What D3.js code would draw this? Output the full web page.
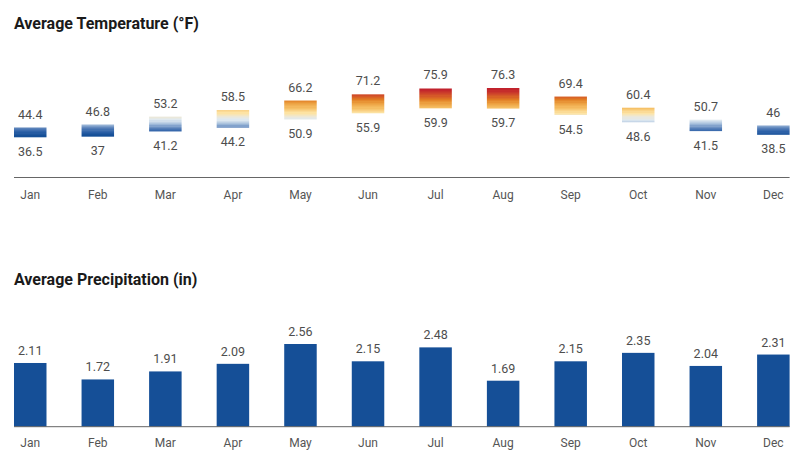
<!DOCTYPE html>
<html><head><meta charset="utf-8">
<script src="https://cdn.jsdelivr.net/npm/d3@7"></script>
<style>
body{margin:0;background:#fff;font-family:Roboto,"Noto Sans",sans-serif;}
svg{display:block}
</style></head>
<body><svg id="c" width="801" height="474"></svg>
<script>
const months = ["Jan","Feb","Mar","Apr","May","Jun","Jul","Aug","Sep","Oct","Nov","Dec"];
const tempHigh = [44.4,46.8,53.2,58.5,66.2,71.2,75.9,76.3,69.4,60.4,50.7,46];
const tempLow = [36.5,37,41.2,44.2,50.9,55.9,59.9,59.7,54.5,48.6,41.5,38.5];
const precip = [2.11,1.72,1.91,2.09,2.56,2.15,2.48,1.69,2.15,2.35,2.04,2.31];
const titles = ["Average Temperature (°F)","Average Precipitation (in)"];

const svg = d3.select("#c");
const x = d3.scaleBand().domain(months).range([14, 789.6]).paddingInner(0.519).paddingOuter(0);

const colorT = d3.scaleLinear()
  .domain([38, 41, 44, 47, 50.5, 53, 56, 60, 64, 67, 71, 75])
  .range(["#154f97","#2e62a8","#5a82ba","#a3bddb","#dfe9f1","#ece8d8","#fde4a6","#f6c066","#eca040","#e07a22","#d04a2a","#c1222c"])
  .interpolate(d3.interpolateRgb)
  .clamp(true);

const defs = svg.append("defs");

// ---- Temperature chart ----
const yT = d3.scaleLinear().domain([36.5, 76.3]).range([137.3, 88]);
const gT = svg.append("g");
gT.append("text").attr("x",14).attr("y",29).text(titles[0])
  .attr("font-size",16).attr("font-weight","bold").attr("fill","#1a1a1a");

months.forEach((m,i)=>{
  const g = defs.append("linearGradient").attr("id","tg"+i)
    .attr("x1",0).attr("x2",0).attr("y1",0).attr("y2",1);
  const hi = tempHigh[i], lo = tempLow[i];
  const n = Math.max(2, Math.ceil(hi-lo));
  for(let k=0;k<n;k++){
    const t = hi - (hi-lo)*(k+0.5)/n;
    g.append("stop").attr("offset",(k/n)).attr("stop-color",colorT(t));
    g.append("stop").attr("offset",((k+1)/n)).attr("stop-color",colorT(t));
  }
});

gT.selectAll("rect.t").data(months).join("rect").attr("class","t")
  .attr("x",d=>x(d)).attr("width",x.bandwidth())
  .attr("y",(d,i)=>yT(tempHigh[i]))
  .attr("height",(d,i)=>yT(tempLow[i])-yT(tempHigh[i]))
  .attr("fill",(d,i)=>`url(#tg${i})`);

gT.selectAll("text.hi").data(months).join("text").attr("class","hi")
  .attr("x",d=>x(d)+x.bandwidth()/2).attr("y",(d,i)=>yT(tempHigh[i])-9)
  .attr("text-anchor","middle").attr("font-size",12.5).attr("fill","#4d4d4d")
  .text((d,i)=>tempHigh[i]);
gT.selectAll("text.lo").data(months).join("text").attr("class","lo")
  .attr("x",d=>x(d)+x.bandwidth()/2).attr("y",(d,i)=>yT(tempLow[i])+18.5)
  .attr("text-anchor","middle").attr("font-size",12.5).attr("fill","#4d4d4d")
  .text((d,i)=>tempLow[i]);

const axT = gT.append("g").attr("transform","translate(0,177.5)")
  .call(d3.axisBottom(x).tickSize(0).tickPadding(12.5));
axT.select(".domain").attr("stroke","#666").attr("d","M14,0H789.6");
axT.selectAll("text").attr("font-size",12).attr("fill","#555").attr("font-family","Roboto");

// ---- Precipitation chart ----
const baseP = 426.7;
const yP = d3.scaleLinear().domain([0.6, 2.56]).range([baseP, 344]);
const gP = svg.append("g");
gP.append("text").attr("x",14).attr("y",284.5).text(titles[1])
  .attr("font-size",16).attr("font-weight","bold").attr("fill","#1a1a1a");

gP.selectAll("rect.p").data(months).join("rect").attr("class","p")
  .attr("x",d=>x(d)).attr("width",x.bandwidth())
  .attr("y",(d,i)=>yP(precip[i]))
  .attr("height",(d,i)=>baseP-yP(precip[i]))
  .attr("fill","#154f97");

gP.selectAll("text.pv").data(months).join("text").attr("class","pv")
  .attr("x",d=>x(d)+x.bandwidth()/2).attr("y",(d,i)=>yP(precip[i])-8)
  .attr("text-anchor","middle").attr("font-size",12.5).attr("fill","#4d4d4d")
  .text((d,i)=>precip[i]);

const axP = gP.append("g").attr("transform",`translate(0,${baseP})`)
  .call(d3.axisBottom(x).tickSize(0).tickPadding(12));
axP.select(".domain").attr("stroke","#666").attr("d","M14,0H789.6");
axP.selectAll("text").attr("font-size",12).attr("fill","#555").attr("font-family","Roboto");
</script></body></html>
